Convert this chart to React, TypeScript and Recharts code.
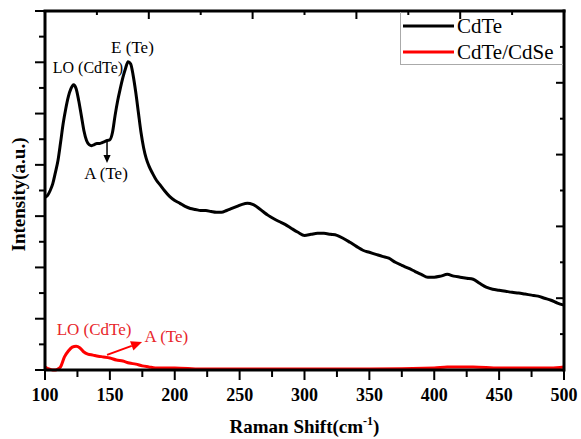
import React from 'react';
import { LineChart, Line, XAxis, YAxis, Legend, ReferenceDot, ReferenceLine } from 'recharts';

// ---- data ----
const cdteShift = [100, 102, 104, 106, 108, 110, 112, 114, 116, 118, 120, 122, 124, 126, 128, 130, 132, 134, 136, 138, 140, 142, 144, 146, 148, 150, 152, 154, 156, 158, 160, 162, 164, 166, 168, 170, 172, 174, 176, 178, 180, 183, 186, 189, 192, 196, 200, 204, 208, 212, 216, 220, 224, 228, 232, 236, 240, 244, 248, 252, 256, 260, 264, 268, 272, 276, 280, 285, 290, 295, 300, 305, 310, 315, 320, 325, 330, 335, 340, 345, 350, 355, 360, 365, 370, 375, 380, 385, 390, 395, 400, 405, 410, 415, 420, 425, 430, 435, 440, 445, 450, 455, 460, 465, 470, 475, 480, 485, 490, 495, 500];
const cdteIntensity = [6.73, 6.81, 7.0, 7.27, 7.7, 8.17, 8.87, 9.61, 10.19, 10.66, 10.97, 11.12, 10.97, 10.5, 9.92, 9.33, 8.95, 8.79, 8.75, 8.79, 8.83, 8.83, 8.87, 8.91, 8.95, 8.98, 9.26, 9.92, 10.5, 10.97, 11.4, 11.75, 12.02, 11.94, 11.47, 10.81, 10.03, 9.26, 8.67, 8.25, 7.97, 7.66, 7.39, 7.2, 7.0, 6.77, 6.61, 6.5, 6.38, 6.3, 6.26, 6.22, 6.22, 6.18, 6.15, 6.15, 6.22, 6.3, 6.38, 6.46, 6.5, 6.46, 6.34, 6.18, 6.03, 5.91, 5.8, 5.68, 5.52, 5.37, 5.25, 5.29, 5.33, 5.33, 5.29, 5.25, 5.13, 4.98, 4.82, 4.67, 4.59, 4.51, 4.43, 4.36, 4.2, 4.08, 3.97, 3.85, 3.73, 3.62, 3.62, 3.66, 3.73, 3.66, 3.62, 3.58, 3.54, 3.38, 3.23, 3.15, 3.11, 3.07, 3.03, 3.0, 2.96, 2.92, 2.88, 2.8, 2.72, 2.61, 2.53];

const cdteCdseShift = [100, 103, 106, 108, 110, 112, 115, 118, 121, 124, 127, 130, 133, 137, 141, 145, 150, 155, 160, 165, 170, 175, 180, 185, 190, 200, 220, 250, 280, 300, 350, 400, 410, 430, 450, 470, 490, 500];
const cdteCdseIntensity = [0.12, 0.04, 0.0, 0.0, 0.04, 0.12, 0.51, 0.74, 0.89, 0.93, 0.86, 0.7, 0.62, 0.58, 0.54, 0.51, 0.47, 0.39, 0.35, 0.27, 0.23, 0.16, 0.12, 0.08, 0.08, 0.08, 0.04, 0.04, 0.04, 0.04, 0.04, 0.08, 0.12, 0.12, 0.08, 0.08, 0.08, 0.12];

const seriesNames = ['CdTe', 'CdTe/CdSe'];
const seriesColors = ['#000000', '#ff0000'];

const xDomain = [100, 500];
const yDomain = [0, 14];
const bottomTicks = [100, 125, 150, 175, 200, 225, 250, 275, 300, 325, 350, 375, 400, 425, 450, 475, 500];
const bottomTickLabels = [100, 150, 200, 250, 300, 350, 400, 450, 500];
const topTicks = [140, 180, 220, 260, 300, 340, 380, 420, 460];
const topMajorTicks = [180, 260, 340, 420];
const leftTicks = [0, 1, 2, 3, 4, 5, 6, 7, 8, 9, 10, 11, 12, 13, 14];
const rightTicks = [1.4, 2.8, 4.2, 5.6, 7, 8.4, 9.8, 11.2, 12.6];
const rightMajorTicks = [2.8, 5.6, 8.4, 11.2];

const blackNotes = [
  { text: 'LO (CdTe)', x: 133.1, y: 11.78, size: 16 },
  { text: 'E (Te)', x: 167.4, y: 12.56, size: 17 },
  { text: 'A (Te)', x: 147.0, y: 7.68, size: 17 },
];
const redNotes = [
  { text: 'LO (CdTe)', x: 137.8, y: 1.56, size: 17 },
  { text: 'A (Te)', x: 193.6, y: 1.29, size: 17 },
];
const blackArrow = [{ x: 147.8, y: 8.97 }, { x: 147.8, y: 8.07 }];
const redArrow = [{ x: 147.8, y: 0.59 }, { x: 174.8, y: 1.09 }];

const cdteData = cdteShift.map((s, i) => ({ shift: s, v: cdteIntensity[i] }));
const cdteCdseData = cdteCdseShift.map((s, i) => ({ shift: s, v: cdteCdseIntensity[i] }));

// all tick positions each axis needs (own ticks + mirrored frame ticks)
const xAllTicks = Array.from(new Set([...bottomTicks, ...topTicks])).sort((a, b) => a - b);
const yAllTicks = Array.from(new Set([...leftTicks, ...rightTicks])).sort((a, b) => a - b);

// layout
const CHART_W = 581;
const CHART_H = 439;
const MARGIN = { top: 11, right: 17, left: 0, bottom: 0 };
const Y_AXIS_W = 45;
const X_AXIS_H = 69;
const PLOT_W = CHART_W - MARGIN.right - MARGIN.left - Y_AXIS_W;
const PLOT_H = CHART_H - MARGIN.top - MARGIN.bottom - X_AXIS_H;

const FONT = '"Liberation Serif", "Times New Roman", serif';
const RED_TEXT = '#e8262b';

// left axis ticks + mirrored inward ticks and the frame edge on the right
const LeftTick = (p: any) => {
  const v = p.payload.value;
  const xr = p.x + PLOT_W;
  return (
    <g>
      {leftTicks.indexOf(v) >= 0 && (
        <line x1={p.x - (v % 2 === 0 ? 10 : 6)} y1={p.y} x2={p.x} y2={p.y} stroke="#000" strokeWidth={2} />
      )}
      {rightTicks.indexOf(v) >= 0 && (
        <line x1={xr - (rightMajorTicks.indexOf(v) >= 0 ? 8 : 4)} y1={p.y} x2={xr} y2={p.y} stroke="#000" strokeWidth={2} />
      )}
      {v === yDomain[0] && (
        <line x1={xr} y1={p.y} x2={xr} y2={p.y - PLOT_H} stroke="#000" strokeWidth={3} strokeLinecap="square" />
      )}
    </g>
  );
};

// bottom axis ticks + labels, mirrored inward ticks and the frame edge on top
const BottomTick = (p: any) => {
  const v = p.payload.value;
  const major = bottomTickLabels.indexOf(v) >= 0;
  const yt = p.y - PLOT_H;
  return (
    <g>
      {bottomTicks.indexOf(v) >= 0 && (
        <line x1={p.x} y1={p.y} x2={p.x} y2={p.y + (major ? 10 : 7)} stroke="#000" strokeWidth={2} />
      )}
      {major && (
        <text x={p.x} y={p.y + 31} textAnchor="middle" fontFamily={FONT} fontWeight="bold" fontSize={18} fill="#000">
          {v}
        </text>
      )}
      {topTicks.indexOf(v) >= 0 && (
        <line x1={p.x} y1={yt} x2={p.x} y2={yt + (topMajorTicks.indexOf(v) >= 0 ? 8 : 4)} stroke="#000" strokeWidth={2} />
      )}
      {v === xDomain[0] && (
        <line x1={p.x} y1={yt} x2={p.x + PLOT_W} y2={yt} stroke="#000" strokeWidth={3} strokeLinecap="square" />
      )}
    </g>
  );
};

const YLabel = (p: any) => {
  const vb = p.viewBox;
  const cx = vb.x + 18;
  const cy = vb.y + vb.height / 2 + 4;
  return (
    <text x={cx} y={cy} transform={`rotate(-90, ${cx}, ${cy})`} textAnchor="middle" dominantBaseline="central" fontFamily={FONT} fontWeight="bold" fontSize={19} fill="#000">
      Intensity(a.u.)
    </text>
  );
};
const XLabel = (p: any) => {
  const vb = p.viewBox;
  return (
    <text x={vb.x + vb.width / 2} y={vb.y + 63} textAnchor="middle" fontFamily={FONT} fontWeight="bold" fontSize={19} fill="#000">
      Raman Shift(cm
      <tspan fontSize={12} dy={-8}>-1</tspan>
      <tspan dy={8}>)</tspan>
    </text>
  );
};

const makeNote = (color: string, text: string, size: number) => (p: any) => (
  <text x={p.cx} y={p.cy} textAnchor="middle" dominantBaseline="central" fontFamily={FONT} fontSize={size} fill={color}>
    {text}
  </text>
);

const makeArrow = (color: string, width: number, head: number) => (p: any) => {
  const { x1, y1, x2, y2 } = p;
  const dx = x2 - x1;
  const dy = y2 - y1;
  const l = Math.sqrt(dx * dx + dy * dy) || 1;
  const ux = dx / l;
  const uy = dy / l;
  const bx = x2 - ux * head;
  const by = y2 - uy * head;
  const hw = head * 0.45;
  return (
    <g>
      <line x1={x1} y1={y1} x2={bx} y2={by} stroke={color} strokeWidth={width} />
      <polygon points={`${x2},${y2} ${bx - uy * hw},${by + ux * hw} ${bx + uy * hw},${by - ux * hw}`} fill={color} />
    </g>
  );
};

const renderLegend = (props: any) => {
  const payload = props.payload || [];
  return (
    <div style={{ width: 163, height: 53, borderLeft: '1px solid #aaa', borderBottom: '1px solid #aaa', boxSizing: 'border-box', paddingTop: 1 }}>
      {payload.map((e: any, i: number) => (
        <div key={i} style={{ display: 'flex', alignItems: 'center', height: 26 }}>
          <svg width={56} height={26} style={{ display: 'block' }}>
            <line x1={2} y1={13} x2={53} y2={13} stroke={e.color} strokeWidth={3} />
          </svg>
          <span style={{ fontFamily: FONT, fontSize: 21, color: '#000', lineHeight: '26px', whiteSpace: 'nowrap' }}>{e.value}</span>
        </div>
      ))}
    </div>
  );
};

export default function App() {
  return (
    <div style={{ position: 'absolute', left: 0, top: 0, width: CHART_W, height: CHART_H, background: '#fff' }}>
      <LineChart width={CHART_W} height={CHART_H} margin={MARGIN}>
        <XAxis
          xAxisId="bottom"
          dataKey="shift"
          type="number"
          domain={xDomain}
          ticks={xAllTicks}
          interval={0}
          height={X_AXIS_H}
          tickSize={0}
          tickMargin={0}
          tickLine={false}
          tick={<BottomTick />}
          axisLine={{ stroke: '#000', strokeWidth: 3 }}
          label={<XLabel />}
        />
        <YAxis
          yAxisId="left"
          type="number"
          domain={yDomain}
          ticks={yAllTicks}
          interval={0}
          width={Y_AXIS_W}
          tickSize={0}
          tickMargin={0}
          tickLine={false}
          tick={<LeftTick />}
          axisLine={{ stroke: '#000', strokeWidth: 3 }}
          label={<YLabel />}
        />
        <Legend
          layout="vertical"
          align="center"
          verticalAlign="middle"
          wrapperStyle={{ left: 400, top: 12, width: 163 }}
          content={renderLegend}
        />
        <Line
          xAxisId="bottom"
          yAxisId="left"
          data={cdteData}
          dataKey="v"
          name={seriesNames[0]}
          stroke={seriesColors[0]}
          strokeWidth={3}
          type="monotone"
          dot={false}
          isAnimationActive={false}
        />
        <Line
          xAxisId="bottom"
          yAxisId="left"
          data={cdteCdseData}
          dataKey="v"
          name={seriesNames[1]}
          stroke={seriesColors[1]}
          strokeWidth={3}
          type="monotone"
          dot={false}
          isAnimationActive={false}
        />
        {blackNotes.map((n, i) => (
          <ReferenceDot key={'b' + i} xAxisId="bottom" yAxisId="left" x={n.x} y={n.y} r={1} shape={makeNote('#000', n.text, n.size)} ifOverflow="visible" />
        ))}
        {redNotes.map((n, i) => (
          <ReferenceDot key={'r' + i} xAxisId="bottom" yAxisId="left" x={n.x} y={n.y} r={1} shape={makeNote(RED_TEXT, n.text, n.size)} ifOverflow="visible" />
        ))}
        <ReferenceLine xAxisId="bottom" yAxisId="left" segment={blackArrow} shape={makeArrow('#000', 1.5, 8)} ifOverflow="visible" />
        <ReferenceLine xAxisId="bottom" yAxisId="left" segment={redArrow} shape={makeArrow('#ff0000', 2, 11)} ifOverflow="visible" />
      </LineChart>
    </div>
  );
}
